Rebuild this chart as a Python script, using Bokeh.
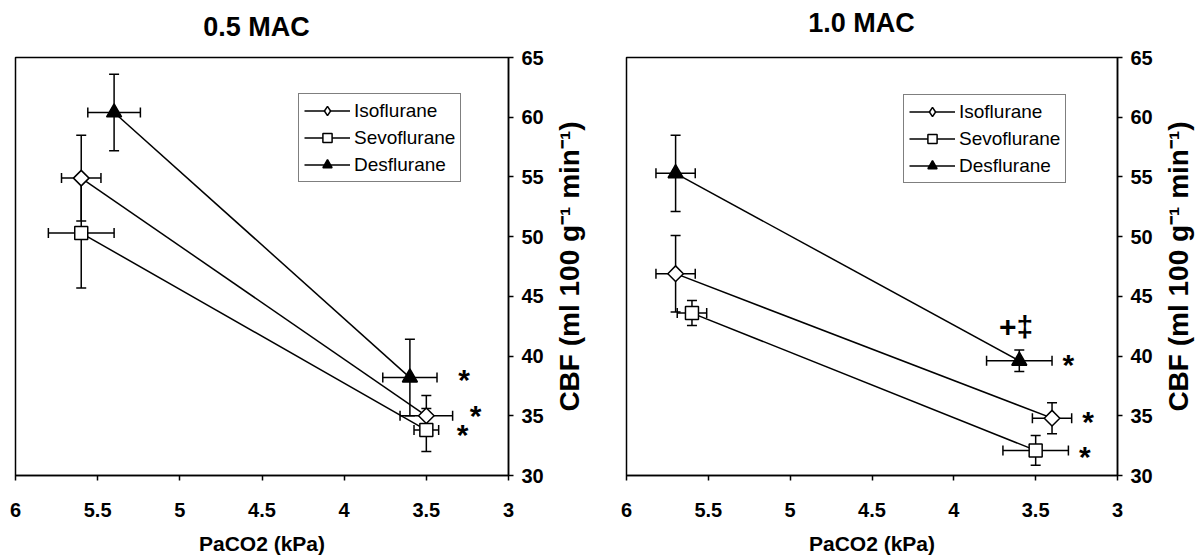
from bokeh.plotting import figure
from bokeh.layouts import row, column
from bokeh.models import (Range1d, FixedTicker, CustomJSTickFormatter, Whisker, TeeHead,
                          ColumnDataSource, Legend, LegendItem)
from bokeh.core.properties import value
from bokeh.embed import file_html
from bokeh.resources import INLINE
import numpy as np

# ---------------- data ----------------
titles = ["0.5 MAC", "1.0 MAC"]
series_names = ["Isoflurane", "Sevoflurane", "Desflurane"]
x_label = "PaCO2 (kPa)"
y_label = "CBF (ml 100 g\u207b\u00b9 min\u207b\u00b9)"
x_ticks = [6, 5.5, 5, 4.5, 4, 3.5, 3]
y_ticks = [30, 35, 40, 45, 50, 55, 60, 65]

# 0.5 MAC
half_iso_x = [5.6, 3.5]
half_iso_y = [54.9, 35.0]
half_iso_xerr = [0.12, 0.16]
half_iso_yerr = [3.6, 1.7]
half_sevo_x = [5.6, 3.5]
half_sevo_y = [50.3, 33.8]
half_sevo_xerr = [0.2, 0.075]
half_sevo_yerr = [4.6, 1.8]
half_des_x = [5.4, 3.6]
half_des_y = [60.4, 38.2]
half_des_xerr = [0.16, 0.165]
half_des_yerr = [3.2, 3.2]
half_note_x = [3.27, 3.2, 3.28]
half_note_y = [38.0, 35.0, 33.4]
half_note_text = ["*", "*", "*"]

# 1.0 MAC
one_iso_x = [5.7, 3.4]
one_iso_y = [46.9, 34.8]
one_iso_xerr = [0.12, 0.12]
one_iso_yerr = [3.2, 1.3]
one_sevo_x = [5.6, 3.5]
one_sevo_y = [43.6, 32.1]
one_sevo_xerr = [0.09, 0.2]
one_sevo_yerr = [1.05, 1.25]
one_des_x = [5.7, 3.6]
one_des_y = [55.3, 39.6]
one_des_xerr = [0.12, 0.2]
one_des_yerr = [3.2, 0.9]
one_note_x = [3.3, 3.18, 3.2, 3.62]
one_note_y = [39.3, 34.5, 31.6, 42.5]
one_note_text = ["*", "*", "*", "+\u2021"]

FONT = "Liberation Sans"
FRAME_H = 418
TOP_PAD = 15
TITLE_H = 42
PAGE_W = 1195


def blank_strip(width, height):
    s = figure(width=width, height=height, x_range=Range1d(0, width), y_range=Range1d(0, height),
               x_axis_location=None, y_axis_location=None, output_backend="svg",
               toolbar_location=None, min_border=0)
    s.grid.visible = False
    s.outline_line_color = None
    return s


def make_panel(series, notes, border_left, frame_w, legend_loc):
    p = figure(frame_width=frame_w, frame_height=FRAME_H,
               x_range=Range1d(6, 3), y_range=Range1d(30, 65),
               y_axis_location="right", output_backend="svg", toolbar_location=None,
               min_border_left=border_left, min_border_right=38,
               min_border_top=TOP_PAD, min_border_bottom=10)
    p.xgrid.visible = False
    p.ygrid.visible = False
    p.outline_line_color = "black"
    p.outline_line_width = 1.5
    p.outline_line_alpha = 1.0

    for ax in (p.xaxis[0], p.yaxis[0]):
        ax.axis_line_color = "black"
        ax.axis_line_width = 1.5
        ax.major_tick_line_color = "black"
        ax.major_tick_line_width = 1.5
        ax.major_tick_in = 0
        ax.major_tick_out = 5
        ax.minor_tick_line_color = None
        ax.major_label_text_font = FONT
        ax.major_label_text_font_style = "bold"
        ax.major_label_text_font_size = "20px"
        ax.major_label_text_color = "black"
        ax.axis_label_text_font = FONT
        ax.axis_label_text_font_style = "bold"
        ax.axis_label_text_color = "black"
        ax.formatter = CustomJSTickFormatter(code="return String(tick)")

    p.xaxis.ticker = FixedTicker(ticks=x_ticks)
    p.yaxis.ticker = FixedTicker(ticks=y_ticks)
    p.xaxis.axis_label = x_label
    p.xaxis.axis_label_text_font_size = "21px"
    p.xaxis.major_label_standoff = 22
    p.xaxis.axis_label_standoff = 12
    p.yaxis.major_label_standoff = 8

    items = []
    for name, (xs, ys, xe, ye), marker, fill, size, angle, leg_marker, leg_size in zip(
            series_names, series,
            ["square", "square", "triangle"], ["white", "white", "black"],
            [11, 13, 15], [np.pi / 4, 0, 0],
            ["diamond", "square", "triangle"], [17, 13, 15]):
        src = ColumnDataSource(dict(
            x=xs, y=ys,
            xlo=[a - b for a, b in zip(xs, xe)], xhi=[a + b for a, b in zip(xs, xe)],
            ylo=[a - b for a, b in zip(ys, ye)], yhi=[a + b for a, b in zip(ys, ye)]))
        for dim, base, lo, hi in (("height", "x", "ylo", "yhi"), ("width", "y", "xlo", "xhi")):
            w = Whisker(source=src, base=base, lower=lo, upper=hi, dimension=dim,
                        line_color="black", line_width=1.5, level="underlay",
                        upper_head=TeeHead(size=10, line_color="black", line_width=1.5),
                        lower_head=TeeHead(size=10, line_color="black", line_width=1.5))
            p.add_layout(w)
        lr = p.line("x", "y", source=src, line_color="black", line_width=1.5)
        p.scatter("x", "y", source=src, marker=marker, size=size, angle=angle,
                  fill_color=fill, line_color="black", line_width=1.5)
        # legend-only marker (no visible points: NaN coordinates)
        lg = p.scatter(x=[np.nan], y=[np.nan], marker=leg_marker, size=leg_size,
                       fill_color=fill, line_color="black", line_width=1.5)
        items.append(LegendItem(label=name, renderers=[lr, lg]))

    nx, ny, nt = notes
    nsrc = ColumnDataSource(dict(x=nx, y=ny, t=nt))
    p.text("x", "y", text="t", source=nsrc, text_font=value(FONT), text_font_size="30px",
           text_font_style="bold", text_align="center", text_baseline="middle",
           text_color="black")

    leg = Legend(items=items, location=legend_loc, border_line_color="black",
                 border_line_width=1, background_fill_color="white", background_fill_alpha=1,
                 label_text_font=FONT, label_text_font_size="19px", label_text_color="black",
                 glyph_width=46, glyph_height=23, label_height=23, spacing=4, padding=5,
                 margin=0, label_standoff=4)
    p.add_layout(leg, "center")
    return p


def ylabel_strip(border_left, frame_w):
    # a left-side title reads bottom-to-top, like the reference's y-axis label
    s = figure(frame_width=frame_w, frame_height=FRAME_H, x_range=Range1d(0, 1),
               y_range=Range1d(0, 1), title=y_label, title_location="left",
               x_axis_location=None, y_axis_location=None, output_backend="svg",
               toolbar_location=None, min_border_left=border_left, min_border_right=0,
               min_border_top=TOP_PAD, min_border_bottom=0)
    s.title.align = "center"
    s.title.text_font = FONT
    s.title.text_font_size = "28px"
    s.title.text_font_style = "bold"
    s.title.text_color = "black"
    s.title.standoff = 0
    s.grid.visible = False
    s.outline_line_color = None
    return s


# titles strip (real text, positioned above each panel)
title_strip = blank_strip(PAGE_W, TITLE_H)
title_strip.text(x=[256, 861], y=[16, 20], text=titles,
                 text_font=value(FONT), text_font_size="27px", text_font_style="bold",
                 text_align="center", text_baseline="alphabetic", text_color="black")

p1 = make_panel([(half_iso_x, half_iso_y, half_iso_xerr, half_iso_yerr),
                 (half_sevo_x, half_sevo_y, half_sevo_xerr, half_sevo_yerr),
                 (half_des_x, half_des_y, half_des_xerr, half_des_yerr)],
                (half_note_x, half_note_y, half_note_text),
                15, 493, (283, 293))
p2 = make_panel([(one_iso_x, one_iso_y, one_iso_xerr, one_iso_yerr),
                 (one_sevo_x, one_sevo_y, one_sevo_xerr, one_sevo_yerr),
                 (one_des_x, one_des_y, one_des_xerr, one_des_yerr)],
                (one_note_x, one_note_y, one_note_text),
                24, 491, (277, 292))

# p1: 15+493+38 = 546 wide; strip 1: 38+18 = 56 -> p2 starts at 602
layout = column(title_strip, row(p1, ylabel_strip(38, 18), p2, ylabel_strip(38, 2)))
open("out.html", "w").write(file_html(layout, INLINE))
